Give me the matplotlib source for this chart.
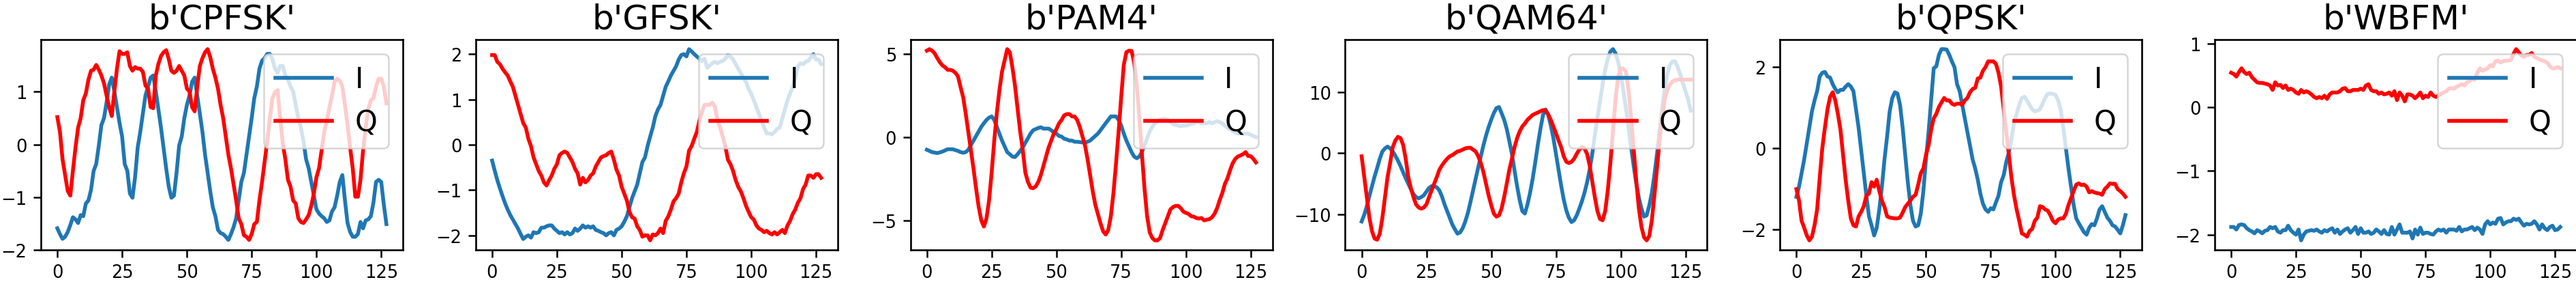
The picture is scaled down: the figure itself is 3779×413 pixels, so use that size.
import numpy as np
import matplotlib
matplotlib.use("Agg")
import matplotlib.pyplot as plt

# modulation names (shown as byte strings like in the notebook this came from)
mods = ["CPFSK", "GFSK", "PAM4", "QAM64", "QPSK", "WBFM"]

cpfsk_i = [-1.59, -1.70, -1.79, -1.75, -1.66, -1.53, -1.38, -1.42, -1.49, -1.34,
           -1.36, -1.12, -1.06, -0.86, -0.50, -0.37, -0.02, 0.37, 0.50, 0.80,
           1.14, 1.27, 1.01, 0.71, 0.41, 0.15, -0.37, -0.50, -0.93, -1.01,
           -0.62, -0.06, 0.24, 0.58, 0.93, 1.10, 1.27, 1.31, 1.01, 0.67,
           0.32, -0.06, -0.45, -0.80, -1.01, -0.97, -0.54, -0.02, 0.15, 0.50,
           0.75, 0.93, 1.19, 1.27, 0.93, 0.58, 0.24, -0.19, -0.54, -0.88,
           -1.19, -1.36, -1.62, -1.68, -1.70, -1.75, -1.81, -1.70, -1.57, -1.40,
           -1.06, -0.71, -0.54, -0.19, 0.15, 0.50, 0.88, 1.10, 1.44, 1.59,
           1.64, 1.72, 1.72, 1.62, 1.44, 1.36, 1.49, 1.49, 1.31, 1.23,
           1.10, 1.01, 0.75, 0.50, 0.32, 0.06, -0.28, -0.45, -0.71, -0.97,
           -1.23, -1.31, -1.36, -1.40, -1.47, -1.44, -1.27, -1.19, -0.97, -0.71,
           -0.58, -1.06, -1.49, -1.66, -1.75, -1.75, -1.70, -1.47, -1.59, -1.44,
           -1.42, -1.36, -1.10, -0.71, -0.67, -0.71, -1.14, -1.51]
cpfsk_q = [0.52, 0.24, -0.28, -0.58, -0.88, -0.97, -0.50, -0.06, 0.32, 0.50,
           0.84, 0.97, 1.23, 1.40, 1.42, 1.51, 1.42, 1.31, 1.16, 0.93,
           0.71, 0.54, 1.01, 1.44, 1.77, 1.72, 1.72, 1.75, 1.49, 1.40,
           1.47, 1.44, 1.44, 1.38, 1.12, 1.06, 0.71, 0.69, 1.31, 1.53,
           1.68, 1.75, 1.79, 1.62, 1.40, 1.36, 1.40, 1.49, 1.40, 1.31,
           1.06, 1.01, 0.71, 0.63, 1.10, 1.49, 1.64, 1.75, 1.81, 1.66,
           1.44, 1.27, 1.06, 0.75, 0.50, 0.15, -0.19, -0.45, -0.75, -1.06,
           -1.40, -1.51, -1.72, -1.75, -1.81, -1.70, -1.51, -1.47, -1.06, -0.71,
           -0.32, 0.06, 0.50, 0.88, 0.99, 1.03, 0.50, 0.02, -0.28, -0.67,
           -0.80, -1.06, -1.12, -1.40, -1.47, -1.49, -1.42, -1.34, -1.16, -0.93,
           -0.62, -0.45, -0.11, 0.24, 0.45, 0.71, 0.93, 1.19, 1.25, 1.21,
           1.10, 0.75, 0.37, -0.06, -0.45, -0.99, -0.99, -0.67, -0.11, 0.32,
           0.67, 0.84, 0.88, 1.10, 1.25, 1.25, 1.10, 0.78]

gfsk_i = [-0.35, -0.57, -0.78, -0.96, -1.13, -1.29, -1.43, -1.55, -1.65, -1.75,
          -1.85, -1.97, -2.08, -2.03, -2.00, -2.05, -1.93, -1.95, -1.93, -1.83,
          -1.83, -1.80, -1.78, -1.78, -1.85, -1.90, -1.95, -1.93, -1.98, -1.93,
          -1.98, -1.95, -1.85, -1.90, -1.85, -1.78, -1.83, -1.80, -1.83, -1.80,
          -1.88, -1.90, -1.93, -1.95, -2.00, -1.95, -1.93, -2.00, -1.88, -1.85,
          -1.80, -1.70, -1.58, -1.38, -1.18, -1.03, -0.88, -0.63, -0.38, -0.28,
          -0.03, 0.18, 0.38, 0.63, 0.78, 0.88, 1.08, 1.28, 1.40, 1.53,
          1.63, 1.73, 1.88, 1.98, 2.00, 1.95, 2.11, 2.06, 2.00, 1.95,
          1.90, 1.85, 1.90, 1.70, 1.75, 1.80, 1.83, 1.80, 1.83, 1.85,
          1.90, 1.98, 1.95, 1.88, 1.78, 1.68, 1.58, 1.48, 1.38, 1.23,
          1.13, 0.98, 0.83, 0.68, 0.53, 0.38, 0.25, 0.25, 0.23, 0.28,
          0.35, 0.38, 0.58, 0.78, 0.98, 1.13, 1.28, 1.48, 1.73, 1.80,
          1.78, 1.83, 1.85, 1.93, 2.00, 1.88, 1.88, 1.78]
gfsk_q = [1.98, 1.98, 1.83, 1.78, 1.68, 1.60, 1.53, 1.40, 1.28, 1.08,
          0.88, 0.68, 0.48, 0.38, 0.13, -0.03, -0.28, -0.43, -0.58, -0.68,
          -0.83, -0.90, -0.78, -0.68, -0.53, -0.43, -0.23, -0.18, -0.15, -0.18,
          -0.28, -0.38, -0.53, -0.63, -0.88, -0.73, -0.83, -0.78, -0.68, -0.63,
          -0.48, -0.38, -0.28, -0.25, -0.23, -0.18, -0.15, -0.33, -0.55, -0.68,
          -0.93, -1.08, -1.23, -1.48, -1.60, -1.63, -1.80, -1.88, -2.03, -2.00,
          -2.00, -2.11, -1.98, -2.00, -1.95, -1.85, -1.95, -1.68, -1.58, -1.43,
          -1.25, -1.18, -1.08, -0.83, -0.63, -0.48, -0.13, -0.03, 0.13, 0.28,
          0.53, 0.73, 0.88, 0.88, 0.88, 0.93, 0.83, 0.53, 0.38, 0.18,
          -0.03, -0.33, -0.43, -0.58, -0.78, -0.93, -1.03, -1.18, -1.35, -1.48,
          -1.60, -1.65, -1.78, -1.85, -1.88, -1.93, -1.90, -1.95, -1.98, -1.93,
          -1.98, -1.93, -1.88, -1.95, -1.78, -1.68, -1.53, -1.43, -1.28, -1.18,
          -0.98, -0.88, -0.68, -0.68, -0.73, -0.65, -0.65, -0.73]

pam4_i = [-0.76, -0.83, -0.90, -0.93, -0.96, -0.92, -0.87, -0.80, -0.73, -0.73,
          -0.73, -0.78, -0.83, -0.90, -0.94, -0.90, -0.76, -0.48, -0.21, 0.07,
          0.34, 0.62, 0.83, 1.03, 1.17, 1.24, 1.03, 0.62, 0.21, -0.21,
          -0.55, -0.90, -1.03, -1.17, -1.20, -1.03, -0.83, -0.62, -0.34, -0.07,
          0.21, 0.41, 0.48, 0.55, 0.59, 0.51, 0.51, 0.51, 0.41, 0.28,
          0.21, 0.07, 0.03, -0.10, -0.14, -0.21, -0.21, -0.28, -0.28, -0.30,
          -0.32, -0.34, -0.28, -0.21, -0.07, 0.07, 0.21, 0.41, 0.62, 0.83,
          1.03, 1.24, 1.24, 1.24, 1.03, 0.69, 0.21, -0.21, -0.55, -0.90,
          -1.17, -1.27, -1.17, -0.90, -0.48, -0.07, 0.34, 0.62, 0.83, 0.96,
          1.03, 1.10, 1.10, 1.03, 0.90, 0.79, 0.73, 0.69, 0.65, 0.69,
          0.69, 0.73, 0.79, 0.83, 0.90, 0.90, 0.83, 0.83, 0.83, 0.90,
          0.83, 0.90, 0.96, 0.90, 0.83, 0.69, 0.55, 0.48, 0.37, 0.28,
          0.21, 0.24, 0.21, 0.21, 0.21, 0.14, 0.07, 0.00]
pam4_q = [5.19, 5.28, 5.19, 5.03, 4.75, 4.50, 4.30, 4.20, 4.04, 4.04,
          3.99, 3.86, 3.65, 3.00, 2.40, 1.40, 0.30, -0.80, -1.90, -3.10,
          -4.20, -5.00, -5.37, -4.89, -3.79, -2.13, -0.21, 1.45, 2.82, 3.93,
          4.61, 5.28, 5.10, 4.20, 3.10, 1.72, 0.34, -0.76, -2.13, -2.69,
          -3.03, -3.07, -2.96, -2.69, -2.27, -1.72, -1.17, -0.62, -0.21, 0.21,
          0.48, 0.83, 1.03, 1.31, 1.38, 1.38, 1.24, 1.24, 1.03, 0.62,
          0.07, -0.48, -1.31, -2.27, -3.24, -4.06, -4.61, -5.17, -5.65, -5.85,
          -5.58, -4.75, -3.37, -1.58, 0.34, 2.41, 4.34, 5.10, 5.19, 5.17,
          4.48, 3.10, 1.17, -1.03, -3.10, -4.75, -5.72, -6.06, -6.20, -6.20,
          -6.06, -5.58, -5.17, -4.75, -4.34, -4.20, -4.13, -4.13, -4.27, -4.48,
          -4.55, -4.61, -4.75, -4.78, -4.86, -4.89, -4.86, -5.00, -4.96, -4.93,
          -4.82, -4.61, -4.27, -3.79, -3.37, -2.82, -2.48, -2.00, -1.58, -1.31,
          -1.17, -1.10, -1.03, -0.90, -1.14, -1.14, -1.31, -1.52]

qam64_i = [-11.2, -10.1, -8.7, -7.0, -5.4, -3.8, -2.4, -0.9, 0.3, 0.8,
           1.1, 0.8, 0.3, -0.4, -1.2, -2.1, -3.1, -4.1, -5.0, -5.9,
           -6.7, -7.2, -7.4, -7.2, -6.9, -6.3, -5.7, -5.4, -5.4, -5.6,
           -6.1, -7.1, -8.4, -9.5, -10.6, -11.7, -12.5, -13.2, -13.0, -12.3,
           -11.2, -9.8, -8.0, -6.1, -4.2, -2.3, -0.5, 1.3, 2.9, 4.3,
           5.5, 6.6, 7.4, 7.6, 6.6, 5.5, 4.0, 2.0, -0.1, -2.8,
           -5.4, -7.7, -9.5, -9.9, -8.4, -6.5, -4.2, -1.5, 1.4, 4.0,
           6.3, 7.2, 6.3, 4.6, 2.5, -0.1, -2.7, -5.3, -7.6, -9.4,
           -10.6, -11.3, -11.0, -10.2, -9.1, -7.9, -6.5, -4.8, -2.7, -0.1,
           2.9, 5.8, 8.5, 11.3, 13.7, 15.5, 16.7, 17.1, 16.4, 15.0,
           13.0, 10.3, 7.4, 4.2, 1.0, -2.1, -5.0, -7.3, -9.1, -10.4,
           -10.2, -8.6, -6.5, -3.5, -0.1, 3.7, 7.4, 10.5, 13.0, 14.5,
           15.1, 15.1, 14.1, 12.9, 11.5, 10.2, 8.9, 7.0]
qam64_q = [-0.5, -3.9, -7.2, -10.6, -12.8, -14.0, -14.2, -13.2, -10.6, -7.2,
           -3.9, -1.6, 1.0, 2.1, 2.7, 2.5, 1.4, -0.9, -3.9, -5.7,
           -7.2, -8.4, -8.9, -9.1, -8.9, -8.4, -7.2, -6.1, -5.0, -3.9,
           -2.7, -2.0, -1.4, -0.9, -0.5, -0.3, 0.0, 0.3, 0.4, 0.6,
           0.8, 0.9, 0.9, 0.6, 0.3, -0.5, -1.6, -3.1, -5.0, -6.9,
           -8.5, -9.9, -10.4, -10.2, -9.1, -7.2, -5.0, -2.7, -0.9, 1.0,
           2.5, 3.6, 4.4, 4.9, 5.5, 5.9, 6.3, 6.5, 6.7, 6.9,
           7.1, 7.0, 6.4, 5.5, 4.4, 3.3, 2.1, 1.0, -0.5, -1.4,
           -1.6, -1.4, -0.9, -0.1, 0.6, 1.0, 0.8, -0.1, -2.0, -4.6,
           -7.2, -9.5, -10.8, -11.0, -9.5, -6.1, -1.6, 3.6, 8.9, 12.6,
           13.9, 13.9, 13.4, 10.4, 5.9, 0.6, -4.6, -9.1, -12.1, -13.8,
           -14.3, -13.6, -11.0, -6.9, -2.4, 2.1, 5.9, 8.9, 10.4, 11.3,
           11.8, 12.0, 12.1, 12.1, 12.1, 12.1, 12.1, 12.1]

qpsk_i = [-1.20, -0.95, -0.62, -0.28, 0.11, 0.50, 0.90, 1.17, 1.40, 1.76,
          1.85, 1.87, 1.76, 1.73, 1.57, 1.45, 1.37, 1.43, 1.43, 1.51,
          1.57, 1.51, 1.40, 0.95, 0.50, -0.06, -0.62, -1.17, -1.68, -1.90,
          -2.15, -1.96, -1.51, -0.95, -0.28, 0.28, 0.90, 1.23, 1.37, 1.34,
          1.06, 0.50, -0.17, -0.84, -1.40, -1.79, -1.93, -1.90, -1.62, -1.06,
          -0.28, 0.39, 1.17, 1.96, 2.01, 2.29, 2.43, 2.43, 2.42, 2.29,
          2.13, 1.99, 1.57, 1.40, 1.06, 0.73, 0.39, 0.06, -0.28, -0.50,
          -0.78, -1.12, -1.37, -1.51, -1.57, -1.48, -1.51, -1.34, -1.17, -0.84,
          -0.67, -0.34, -0.11, 0.22, 0.62, 0.84, 1.06, 1.23, 1.26, 1.17,
          1.06, 0.95, 0.90, 0.92, 0.95, 1.09, 1.23, 1.33, 1.34, 1.33,
          1.31, 1.17, 0.95, 0.50, 0.00, -0.50, -0.95, -1.40, -1.73, -1.85,
          -1.96, -2.07, -2.13, -1.96, -1.87, -1.90, -1.73, -1.51, -1.43, -1.57,
          -1.71, -1.79, -1.90, -1.93, -2.01, -2.10, -1.90, -1.65]
qpsk_q = [-1.01, -1.29, -1.79, -1.96, -2.15, -2.27, -2.18, -1.90, -1.51, -0.73,
          0.00, 0.50, 0.95, 1.26, 1.37, 1.17, 0.84, 0.45, -0.17, -0.78,
          -1.29, -1.73, -1.90, -1.93, -1.68, -1.57, -1.43, -1.17, -1.12, -0.84,
          -0.95, -0.78, -1.06, -1.29, -1.45, -1.68, -1.71, -1.72, -1.73, -1.73,
          -1.71, -1.59, -1.45, -1.37, -1.29, -1.20, -1.15, -0.90, -0.62, -0.50,
          -0.17, 0.06, 0.45, 0.73, 0.84, 1.01, 1.12, 1.23, 1.17, 1.17,
          1.09, 1.06, 1.09, 1.09, 1.06, 1.17, 1.23, 1.37, 1.45, 1.48,
          1.71, 1.73, 1.90, 1.99, 2.13, 2.13, 2.13, 2.07, 1.85, 1.51,
          0.95, 0.39, -0.17, -0.73, -1.17, -1.51, -1.79, -2.10, -2.13, -2.18,
          -2.04, -1.99, -1.79, -1.71, -1.43, -1.45, -1.51, -1.54, -1.65, -1.79,
          -1.85, -1.76, -1.73, -1.73, -1.62, -1.40, -1.23, -1.06, -0.90, -0.87,
          -0.91, -0.90, -0.95, -1.09, -1.06, -1.09, -1.11, -1.12, -1.15, -1.01,
          -0.95, -0.87, -0.88, -0.88, -1.01, -1.06, -1.12, -1.20]

wbfm_i = [-1.88, -1.88, -1.92, -1.85, -1.84, -1.85, -1.90, -1.93, -1.95, -1.98,
          -1.93, -1.95, -1.98, -1.94, -1.93, -1.88, -1.90, -1.88, -1.95, -1.97,
          -1.93, -1.93, -1.86, -1.93, -1.97, -2.00, -1.92, -2.09, -2.00, -1.95,
          -1.94, -1.93, -1.94, -1.92, -1.95, -1.97, -1.93, -1.95, -1.92, -1.90,
          -1.97, -1.92, -1.99, -1.95, -1.92, -1.90, -1.97, -1.93, -1.88, -1.99,
          -1.90, -1.97, -1.97, -1.95, -1.99, -1.97, -1.92, -1.95, -1.99, -1.93,
          -1.99, -2.00, -1.88, -2.00, -1.92, -1.84, -1.97, -1.97, -1.97, -1.95,
          -2.06, -1.92, -2.00, -1.89, -1.99, -1.97, -1.97, -1.99, -2.00, -1.95,
          -1.92, -1.94, -1.92, -1.97, -1.92, -1.92, -1.92, -1.94, -1.88, -1.95,
          -1.92, -1.92, -1.90, -1.88, -1.93, -1.89, -1.92, -1.99, -1.84, -1.79,
          -1.84, -1.81, -1.83, -1.75, -1.74, -1.84, -1.81, -1.79, -1.79, -1.75,
          -1.77, -1.75, -1.81, -1.86, -1.83, -1.84, -1.83, -1.79, -1.84, -1.92,
          -1.84, -1.90, -1.93, -1.88, -1.86, -1.93, -1.92, -1.88]
wbfm_q = [0.54, 0.52, 0.48, 0.55, 0.61, 0.55, 0.52, 0.54, 0.47, 0.43,
          0.39, 0.38, 0.38, 0.37, 0.36, 0.34, 0.27, 0.39, 0.34, 0.35,
          0.30, 0.34, 0.27, 0.29, 0.27, 0.23, 0.21, 0.27, 0.23, 0.25,
          0.23, 0.20, 0.16, 0.14, 0.16, 0.14, 0.18, 0.13, 0.20, 0.23,
          0.23, 0.23, 0.25, 0.29, 0.30, 0.25, 0.25, 0.27, 0.27, 0.27,
          0.29, 0.27, 0.34, 0.36, 0.27, 0.25, 0.25, 0.21, 0.23, 0.20,
          0.21, 0.23, 0.18, 0.25, 0.11, 0.23, 0.18, 0.09, 0.20, 0.20,
          0.18, 0.14, 0.18, 0.23, 0.14, 0.18, 0.16, 0.23, 0.18, 0.16,
          0.18, 0.21, 0.23, 0.25, 0.29, 0.30, 0.29, 0.32, 0.34, 0.36,
          0.34, 0.39, 0.41, 0.45, 0.43, 0.54, 0.61, 0.57, 0.59, 0.61,
          0.66, 0.64, 0.72, 0.73, 0.70, 0.72, 0.73, 0.73, 0.74, 0.84,
          0.91, 0.86, 0.81, 0.79, 0.82, 0.82, 0.85, 0.79, 0.77, 0.75,
          0.73, 0.72, 0.70, 0.64, 0.61, 0.61, 0.63, 0.61]

i_series = [cpfsk_i, gfsk_i, pam4_i, qam64_i, qpsk_i, wbfm_i]
q_series = [cpfsk_q, gfsk_q, pam4_q, qam64_q, qpsk_q, wbfm_q]

x_ticks = [0, 25, 50, 75, 100, 125]
y_ticks = [[-2, -1, 0, 1], [-2, -1, 0, 1, 2], [-5, 0, 5],
           [-10, 0, 10], [-2, 0, 2], [-2, -1, 0, 1]]

W, H = 3780, 414
fig = plt.figure(figsize=(W / 100, H / 100), dpi=100)

ax_w = 531
for k, name in enumerate(mods):
    left = 60 + k * 637.8
    ax = fig.add_axes([left / W, 47 / H, ax_w / W, 308 / H])
    t = np.arange(len(i_series[k]))
    ax.plot(t, i_series[k], color="C0", lw=4, label="I")
    ax.plot(t, q_series[k], color="red", lw=4, label="Q")
    ax.set_title(f"b'{name}'", fontsize=36, pad=12)
    ax.set_xticks(x_ticks)
    ax.set_yticks(y_ticks[k])
    ax.tick_params(labelsize=18.5, length=7.7, width=1.8, pad=7)
    for sp in ax.spines.values():
        sp.set_linewidth(1.9)
    leg = ax.legend(loc="upper right", fontsize=30)
    leg.get_frame().set_linewidth(1.8)

fig.savefig("out.png", dpi=100)
